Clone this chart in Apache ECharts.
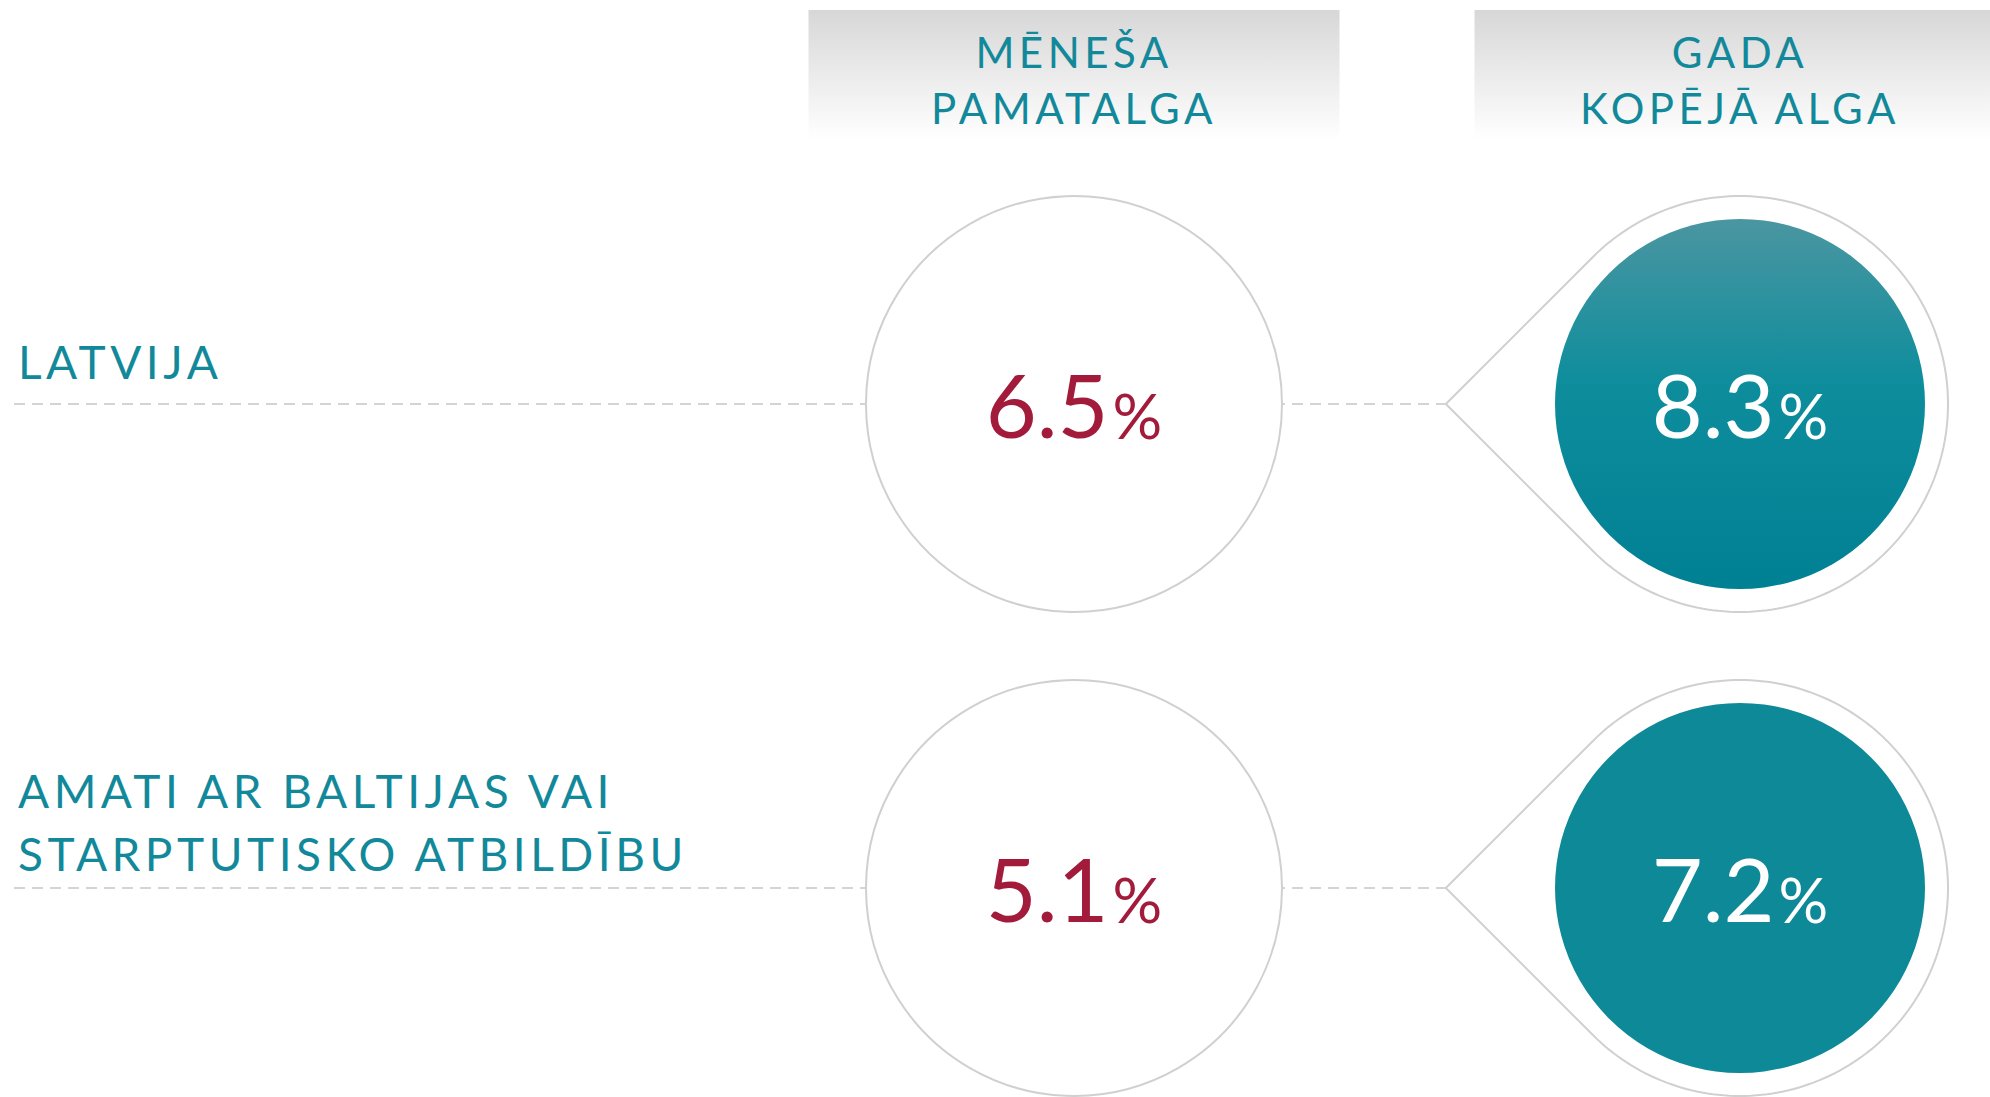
<!DOCTYPE html>
<html>
<head>
<meta charset="utf-8">
<script src="https://cdn.jsdelivr.net/npm/echarts@6/dist/echarts.min.js"></script>
<style>
  html, body { margin: 0; padding: 0; background: #fff; }
  #main { width: 1990px; height: 1097px; }
</style>
</head>
<body>
<div id="main"></div>
<script>
// dati
const columns = ['MĒNEŠA\nPAMATALGA', 'GADA\nKOPĒJĀ ALGA'];
const rows = ['LATVIJA', 'AMATI AR BALTIJAS VAI\nSTARPTUTISKO ATBILDĪBU'];
const baseSalaryGrowth = [6.5, 5.1]; // mēneša pamatalga, %
const totalPayGrowth = [8.3, 7.2];   // gada kopējā alga, %

const teal = '#12899a';
const red = '#a31b3a';
const ring = '#d0d0d0';
const font = 'Lato, "Open Sans", sans-serif';
const R_OUT = 208;
const R_IN = 185;

// inner disc fill per row
const innerFills = [
  { type: 'linear', x: 0, y: 0, x2: 0, y2: 1, colorStops: [
    { offset: 0, color: '#4a96a1' },
    { offset: 0.45, color: '#0d8d9c' },
    { offset: 1, color: '#008093' }
  ] },
  '#0e8998'
];

// per row label tweak (2nd row sits a bit lower)
const rowLabelStyle = [
  { align: 'left', verticalAlign: 'bottom', padding: [0, 0, 12, 0] },
  { align: 'left', verticalAlign: 'bottom', padding: [0, 0, 3, 0], lineHeight: 63 }
];

const chart = echarts.init(document.getElementById('main'), null, { renderer: 'svg' });

function pctLabel(v) {
  return '{v|' + v.toFixed(1) + '}{p|%}';
}

function pctRich(color) {
  return {
    v: { fontFamily: font, fontSize: 88, color: color, fill: color },
    p: { fontFamily: font, fontSize: 62, color: color, fill: color, padding: [21, 0, 0, 4] }
  };
}

var option = {
  animation: false,
  grid: { left: 1074, right: 250, top: 404, bottom: 209, outerBoundsMode: 'none', containLabel: false },
  xAxis: {
    type: 'category',
    data: columns,
    position: 'top',
    boundaryGap: false,
    axisLine: { show: false },
    axisTick: { show: false },
    splitLine: { show: false },
    axisLabel: {
      interval: 0,
      margin: 264,
      color: teal,
      fontFamily: font,
      fontSize: 42,
      lineHeight: 56,
      width: 531,
      align: 'center',
      padding: [14, 0, 4, 0],
      backgroundColor: {
        type: 'linear', x: 0, y: 0, x2: 0, y2: 1,
        colorStops: [{ offset: 0, color: '#d7d7d7' }, { offset: 1, color: '#ffffff' }]
      }
    }
  },
  yAxis: {
    type: 'category',
    data: rows.map(function (r, i) { return { value: r, textStyle: rowLabelStyle[i] }; }),
    inverse: true,
    boundaryGap: false,
    axisLine: { show: false },
    axisTick: { show: false },
    splitLine: { show: false },
    axisLabel: {
      interval: 0,
      margin: 1056,
      align: 'left',
      verticalAlign: 'bottom',
      color: teal,
      fontFamily: font,
      fontSize: 46,
      lineHeight: 62,
      padding: [0, 0, 12, 0]
    }
  },
  series: [
    {
      // dashed guide lines
      type: 'custom',
      z: 1,
      silent: true,
      data: rows.map(function (r, i) { return [1, i]; }),
      renderItem: function (params, api) {
        var c = api.coord([api.value(0), api.value(1)]);
        var tip = c[0] - R_OUT * Math.SQRT2;
        return {
          type: 'line',
          shape: { x1: 14, y1: c[1], x2: tip, y2: c[1] },
          style: { stroke: '#d4d4d4', lineWidth: 2, lineDash: [11, 7] }
        };
      }
    },
    {
      type: 'scatter',
      z: 2,
      clip: false,
      silent: true,
      data: baseSalaryGrowth.map(function (v, i) { return [0, i, v]; }),
      symbol: 'circle',
      symbolSize: R_OUT * 2,
      itemStyle: { color: '#fff', borderColor: ring, borderWidth: 2, opacity: 1 },
      label: {
        show: true,
        position: 'inside',
        formatter: function (p) { return pctLabel(p.value[2]); },
        rich: pctRich(red)
      }
    },
    {
      type: 'custom',
      z: 2,
      silent: true,
      data: totalPayGrowth.map(function (v, i) { return [1, i, v]; }),
      renderItem: function (params, api) {
        var c = api.coord([api.value(0), api.value(1)]);
        var cx = c[0], cy = c[1];
        var pts = [[cx - R_OUT * Math.SQRT2, cy]];
        for (var a = -135; a <= 135; a += 1.5) {
          var t = a * Math.PI / 180;
          pts.push([cx + R_OUT * Math.cos(t), cy + R_OUT * Math.sin(t)]);
        }
        return {
          type: 'group',
          children: [
            { type: 'polygon', shape: { points: pts }, style: { fill: '#fff', stroke: ring, lineWidth: 2 } },
            { type: 'circle', shape: { cx: cx, cy: cy, r: R_IN }, style: { fill: innerFills[params.dataIndex] } },
            {
              type: 'text', x: cx, y: cy,
              style: {
                text: pctLabel(api.value(2)),
                rich: pctRich('#ffffff'),
                fill: '#ffffff',
                align: 'center',
                verticalAlign: 'middle'
              }
            }
          ]
        };
      }
    }
  ]
};

chart.setOption(option);

// letter spacing on the teal texts
var headerLines = columns.join('\n').split('\n');
var rowLines = rows.join('\n').split('\n');
function spaceLetters() {
  document.querySelectorAll('#main text').forEach(function (t) {
    var s = t.textContent;
    if (headerLines.indexOf(s) >= 0) t.style.letterSpacing = '4.5px';
    else if (rowLines.indexOf(s) >= 0) t.style.letterSpacing = '4.5px';
  });
}
spaceLetters();
chart.on('finished', spaceLetters);
</script>
</body>
</html>
